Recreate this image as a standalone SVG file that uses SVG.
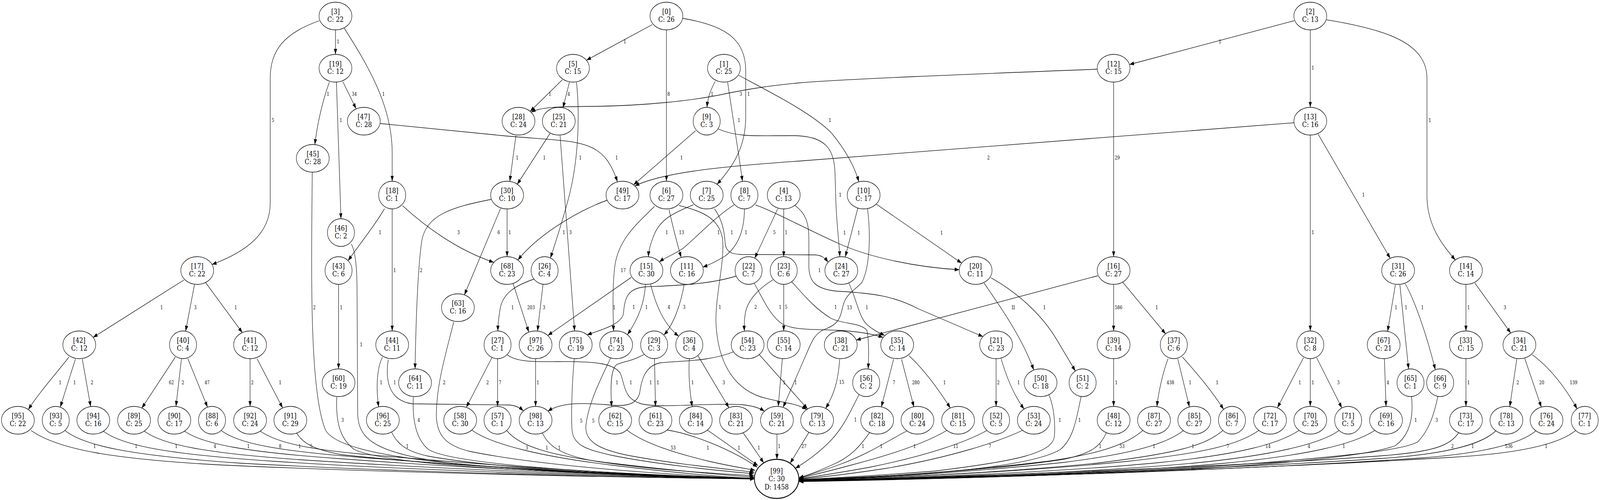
<svg xmlns="http://www.w3.org/2000/svg" width="4965" height="1279" viewBox="0 0 4965 1279" preserveAspectRatio="none" style="width:100%;height:100%">
<defs>
<style>
#connectors path{fill:none;stroke:#000;stroke-width:1.3;marker-end:url(#ah)}
#connectors text{font-family:"DejaVu Serif","Liberation Serif",serif;font-size:12.3px;text-anchor:middle;fill:#000}
.n ellipse{fill:#fff;stroke:#000;stroke-width:1.3}
.n text{font-family:"DejaVu Serif","Liberation Serif",serif;font-size:18.7px;text-anchor:middle;fill:#000}
.n.b ellipse{stroke-width:2.4}
</style>
<marker id="ah" viewBox="0 0 14 10" refX="14" refY="5" markerWidth="14" markerHeight="10" markerUnits="userSpaceOnUse" orient="auto"><path d="M0,0 L14,5 L0,10 z" fill="#000"/></marker>
</defs>
<rect width="4965" height="1279" fill="#fff"/>
<g id="connectors">
<g><path d="M1041,76.5 L1041,139"/><text x="1049" y="111.5">1</text></g>
<g><path d="M991,53 C880,85 838.5,130 838.5,200 L838.5,520 C838.5,600 760,645 658,676.5"/><text x="847" y="312.5">5</text></g>
<g><path d="M1068,72 C1140,165 1217,270 1217,390 L1217,463.5"/><text x="1190" y="245.5">1</text></g>
<g><path d="M1022,210 C1000,260 984,320 977,369.8"/><text x="1018" y="245.5">1</text></g>
<g><path d="M1044,210 L1058,559.5"/><text x="1058" y="312.5">1</text></g>
<g><path d="M1064,209 L1105,278"/><text x="1099.5" y="245.5">34</text></g>
<g><path d="M1180,316 L1560,347 C1800,365 1870,350 1916,465"/><text x="1913.7" y="408.5">1</text></g>
<g><path d="M969,440.5 C966,700 960,1000 1010,1100 C1060,1175 1500,1205 2341,1225"/><text x="975.5" y="791.5">2</text></g>
<g><path d="M1090,624 C1104,645 1108,690 1108,750 L1110,1060 C1112,1130 1180,1160 1400,1185 C1800,1215 2200,1222 2341,1225"/><text x="1121" y="886.5">1</text></g>
<g><path d="M1193,534 C1160,580 1120,620 1080,667"/><text x="1179.5" y="599.5">1</text></g>
<g><path d="M1217,534.5 L1217,846.5"/><text x="1225" y="696.5">1</text></g>
<g><path d="M1249,526 C1320,580 1420,640 1532,671"/><text x="1422.7" y="599.5">3</text></g>
<g><path d="M571,716 L289,863"/><text x="501.6" y="791.5">1</text></g>
<g><path d="M603.6,727.5 L576,847"/><text x="606" y="791.5">3</text></g>
<g><path d="M638,722.7 L752,851"/><text x="731.6" y="791.5">1</text></g>
<g><path d="M1050.6,727.5 L1050.6,943.5"/><text x="1058.7" y="791.5">1</text></g>
<g><path d="M213.7,913.5 C180,950 120,1005 88,1047.6"/><text x="186.8" y="983.5">1</text></g>
<g><path d="M234,918.5 L187,1041.4"/><text x="231.6" y="983.5">1</text></g>
<g><path d="M255.3,918.5 L281.4,1040"/><text x="285.5" y="983.5">2</text></g>
<g><path d="M544,913.5 L440,1044"/><text x="531.8" y="983.5">62</text></g>
<g><path d="M563,918.5 L546,1039.6"/><text x="567.7" y="983.5">2</text></g>
<g><path d="M583,917.6 L644,1041.5"/><text x="642.7" y="983.5">47</text></g>
<g><path d="M776,917.5 L776,1039.5"/><text x="783" y="983.5">2</text></g>
<g><path d="M797.7,917.6 L877,1043.5"/><text x="869.5" y="983.5">1</text></g>
<g><path d="M1187,913.5 C1170,940 1166,990 1175,1041"/><text x="1182.7" y="983.5">1</text></g>
<g><path d="M1205,919.6 C1195,970 1205,1025 1280,1033 L1580,1036 C1600,1037 1614,1043 1624,1051"/><text x="1225" y="983.5">1</text></g>
<g><path d="M1524.6,510 C1400,530 1320,550 1308,620 C1295,700 1290,850 1288,943.5"/><text x="1306.8" y="696.5">2</text></g>
<g><path d="M1553,534 L1441,754.4"/><text x="1547.5" y="599.5">6</text></g>
<g><path d="M1573.6,534.5 L1573.6,656.5"/><text x="1581.7" y="599.5">1</text></g>
<g><path d="M1885,512 C1820,530 1680,590 1607,665"/><text x="1749.7" y="599.5">1</text></g>
<g><path d="M1408,823.7 C1385,900 1355,980 1354,1060 C1354,1110 1380,1140 1460,1155 C1700,1195 2100,1215 2341,1225"/><text x="1378.6" y="983.5">2</text></g>
<g><path d="M1282.6,1015.5 C1280,1060 1285,1120 1330,1150 C1400,1185 1800,1210 2341,1225"/><text x="1299.5" y="1079.5">4</text></g>
<g><path d="M1045,1015.5 C1042,1070 1050,1120 1100,1150 C1200,1190 1700,1210 2341,1225"/><text x="1063" y="1079.5">3</text></g>
<g><path d="M1215,1105 C1232,1135 1260,1155 1330,1167 C1550,1200 2000,1218 2341,1225"/><text x="1264" y="1146.5">1</text></g>
<g><path d="M96,1101 C180,1150 350,1175 700,1190 C1300,1212 2000,1222 2341,1225"/><text x="293.6" y="1146.5">1</text></g>
<g><path d="M201,1101 C260,1140 400,1165 750,1185 C1300,1210 2000,1222 2341,1225"/><text x="422.5" y="1146.5">1</text></g>
<g><path d="M321,1103 C380,1140 520,1162 850,1180 C1350,1207 2000,1220 2341,1225"/><text x="547" y="1146.5">1</text></g>
<g><path d="M448,1103 C505,1138 640,1160 950,1177 C1450,1204 2000,1219 2341,1225"/><text x="667" y="1146.5">4</text></g>
<g><path d="M573,1103 C630,1136 760,1156 1050,1173 C1500,1201 2000,1218 2341,1224"/><text x="771" y="1146.5">1</text></g>
<g><path d="M686,1101 C740,1135 860,1153 1120,1170 C1550,1198 2000,1217 2341,1224"/><text x="869.5" y="1146.5">8</text></g>
<g><path d="M808,1103 C860,1133 960,1152 1200,1167 C1600,1196 2000,1216 2341,1224"/><text x="930" y="1146.5">1</text></g>
<g><path d="M920,1107 C940,1135 975,1150 1060,1163 C1450,1198 2000,1215 2341,1224"/><text x="965.7" y="1146.5">5</text></g>
<g><path d="M2024,63 L1820,154"/><text x="1939" y="111.5">1</text></g>
<g><path d="M2068,76.5 L2068,463.5"/><text x="2075" y="245.5">8</text></g>
<g><path d="M2119,47 C2250,65 2314,100 2314,180 L2314,300 C2314,380 2270,430 2225,471.5"/><text x="2323" y="245.5">1</text></g>
<g><path d="M1745,204 L1645,285"/><text x="1706.5" y="245.5">1</text></g>
<g><path d="M1767,210.4 L1747,275.7"/><text x="1765" y="245.5">4</text></g>
<g><path d="M1789,210.4 C1800,300 1795,420 1760,520 C1740,580 1720,630 1708,660"/><text x="1801" y="408.5">1</text></g>
<g><path d="M2219.6,208 C2205,230 2196,250 2194,274.5"/><text x="2209.8" y="245.5">1</text></g>
<g><path d="M2258,210.4 C2270,280 2290,380 2304,463.8"/><text x="2293" y="312.5">1</text></g>
<g><path d="M2292,192.5 C2400,240 2520,290 2580,340 C2620,380 2650,420 2665,465"/><text x="2575.6" y="312.5">1</text></g>
<g><path d="M3405,177 C3000,190 2600,203 2480,212 C2380,220 2320,228 2250,240 C2150,258 2000,270 1850,272 C1750,273 1680,272 1648,287"/><text x="2298.7" y="245.5">3</text></g>
<g><path d="M1601,346.7 L1582,463.8"/><text x="1605" y="408.5">1</text></g>
<g><path d="M1707,341 L1605,471.5"/><text x="1689" y="408.5">1</text></g>
<g><path d="M1738,346.7 C1750,480 1770,700 1783,846.6"/><text x="1770" y="599.5">3</text></g>
<g><path d="M2158.4,334.4 L1966,472.8"/><text x="2115" y="408.5">1</text></g>
<g><path d="M2229,330 C2290,352 2350,347 2460,347 C2560,347 2588,380 2591,440 L2594,520 C2597,580 2604,620 2606,656.6"/><text x="2607.4" y="503.5">1</text></g>
<g><path d="M4016,314 L2480,412 C2250,425 2060,440 1970,475.5"/><text x="3067.4" y="408.5">2</text></g>
<g><path d="M3455.7,210 L3455.7,656.5"/><text x="3467" y="408.5">29</text></g>
<g><path d="M4016,53 L3505,165"/><text x="3786" y="111.5">1</text></g>
<g><path d="M4066,76.5 L4066,274.5"/><text x="4074" y="178.5">1</text></g>
<g><path d="M4116,50.6 C4300,75 4428,110 4428,200 L4428,500 C4428,580 4480,630 4516,665"/><text x="4437" y="312.5">1</text></g>
<g><path d="M4066,345.5 L4066,846.5"/><text x="4074" y="599.5">1</text></g>
<g><path d="M4090,342.6 L4314,660.8"/><text x="4231" y="503.5">1</text></g>
<g><path d="M2031,528 C1980,570 1920,610 1908,680 C1900,730 1902,800 1904,847"/><text x="1934" y="696.5">17</text></g>
<g><path d="M2076,536 C2088,580 2100,620 2114,658.6"/><text x="2115" y="599.5">13</text></g>
<g><path d="M2107,525.7 C2175,540 2230,555 2242,610 C2250,670 2218,760 2222,830 C2228,920 2270,990 2360,1015 C2420,1030 2470,1030 2503,1047.6"/><text x="2234" y="790.5">1</text></g>
<g><path d="M2152,523.7 C2090,545 2050,560 2030,600 C2018,625 2013,640 2012,656.7"/><text x="2069" y="599.5">1</text></g>
<g><path d="M2217,534 C2240,560 2248,590 2250,620 C2252,645 2270,650 2300,651 L2530,652 C2550,653 2560,660 2570,670.7"/><text x="2271" y="599.5">1</text></g>
<g><path d="M2278,523.7 C2220,555 2170,600 2120,635 C2090,652 2065,658 2046,670"/><text x="2229.8" y="599.5">1</text></g>
<g><path d="M2310,534.5 C2310,590 2290,630 2250,655 C2220,670 2200,678 2181,683"/><text x="2315" y="599.5">1</text></g>
<g><path d="M2344,524 C2400,540 2500,585 2600,622 C2700,660 2850,684 2976.5,690"/><text x="2621" y="600.5">1</text></g>
<g><path d="M2413,534.7 L2342,660.5"/><text x="2403" y="599.5">5</text></g>
<g><path d="M2432,534.5 L2432,656.5"/><text x="2439.6" y="599.5">1</text></g>
<g><path d="M2466,525 C2500,545 2510,570 2510,610 L2510,680 C2510,720 2530,740 2600,745 C2720,750 2780,760 2850,790 L3050,861"/><text x="2543" y="696.5">1</text></g>
<g><path d="M2662,532 L2623,657"/><text x="2665" y="600.5">1</text></g>
<g><path d="M2719,522 L2984,673"/><text x="2922" y="600.5">1</text></g>
<g><path d="M2692,534 C2702,600 2700,680 2675,722 C2650,745 2625,750 2615,785 C2608,815 2600,830 2560,842 C2530,852 2520,870 2500,910 L2430,1042"/><text x="2636" y="791">13</text></g>
<g><path d="M1958.6,709.6 L1700,858"/><text x="1906" y="791.5">1</text></g>
<g><path d="M2003,727.8 C2000,770 1985,810 1947,856"/><text x="2006" y="790.5">1</text></g>
<g><path d="M2019,727.8 C2035,780 2060,830 2106,860"/><text x="2075.5" y="790.5">4</text></g>
<g><path d="M2123,727.8 C2112,780 2090,830 2060,857"/><text x="2123" y="790.5">3</text></g>
<g><path d="M2285,706 C2200,728 2100,730 2000,734 C1950,738 1938,760 1935,800 C1932,830 1860,845 1822,856.5"/><text x="1966.7" y="790.5">1</text></g>
<g><path d="M2340,724 C2365,760 2390,810 2430,830 C2470,845 2520,842 2600,845 C2670,848 2710,855 2740,863"/><text x="2421" y="790.5">1</text></g>
<g><path d="M2399,715.5 C2350,740 2320,770 2313,800 C2309,820 2309,835 2310,847"/><text x="2345" y="790.5">2</text></g>
<g><path d="M2432,727.5 L2432,846.5"/><text x="2439.6" y="790.5">5</text></g>
<g><path d="M2456,720 C2500,760 2530,790 2580,815 C2620,830 2670,825 2690,845 C2697,870 2696,910 2694,943.8"/><text x="2593" y="790.5">1</text></g>
<g><path d="M2633.5,723 C2660,770 2665,810 2690,830 C2710,845 2730,852 2745,858"/><text x="2690" y="791">1</text></g>
<g><path d="M3053.6,724 C3100,780 3170,860 3208,946.5"/><text x="3142" y="791.5">1</text></g>
<g><path d="M3074,710 C3150,745 3230,800 3280,870 L3337,949"/><text x="3241" y="791.5">1</text></g>
<g><path d="M3406,705.5 L2657,870"/><text x="3147" y="791.5">1</text></g>
<g><path d="M3455.7,727.5 L3455.7,846.5"/><text x="3471" y="791.5">586</text></g>
<g><path d="M3484,722 L3617,854"/><text x="3589.5" y="791.5">1</text></g>
<g><path d="M4330,728.4 L4306,847.6"/><text x="4332" y="791.5">1</text></g>
<g><path d="M4344,728.4 L4371,943.8"/><text x="4363" y="791.5">1</text></g>
<g><path d="M4361,726 C4390,770 4425,850 4454,945.8"/><text x="4414" y="791.5">1</text></g>
<g><path d="M4549,727.5 L4549,846.5"/><text x="4557" y="791.5">1</text></g>
<g><path d="M4576.7,724 L4688,851.8"/><text x="4669.7" y="791.5">3</text></g>
<g><path d="M4045,915 L3964,1043"/><text x="4033.5" y="983.5">1</text></g>
<g><path d="M4066,917.5 L4066,1039.5"/><text x="4074" y="983.5">1</text></g>
<g><path d="M4085.7,915 L4164,1043.5"/><text x="4153" y="983.5">3</text></g>
<g><path d="M4296,917.6 L4301,1039.5"/><text x="4306.7" y="983.5">4</text></g>
<g><path d="M4549,917.5 L4549,1039.5"/><text x="4557" y="983.5">1</text></g>
<g><path d="M4707,917.6 L4685,1040.3"/><text x="4709.7" y="983.5">2</text></g>
<g><path d="M4731.7,917.6 L4783,1041.5"/><text x="4784" y="983.5">20</text></g>
<g><path d="M4754.5,907 C4800,935 4850,980 4894,1046"/><text x="4883" y="983.5">139</text></g>
<g><path d="M3624.6,917.6 C3610,950 3595,1000 3590,1040"/><text x="3632" y="983.5">438</text></g>
<g><path d="M3654.7,917.6 L3691,1041"/><text x="3693" y="983.5">1</text></g>
<g><path d="M3669.4,913.5 C3720,960 3760,1000 3797,1047"/><text x="3777" y="983.5">1</text></g>
<g><path d="M3455.7,917.5 L3455.7,1039.5"/><text x="3464" y="983.5">1</text></g>
<g><path d="M3091,917.5 L3091,1039.5"/><text x="3098" y="983.5">2</text></g>
<g><path d="M3106.6,917.6 C3125,970 3150,1015 3178,1046.4"/><text x="3161" y="983.5">1</text></g>
<g><path d="M2773,919 L2735,1041"/><text x="2774" y="983.5">7</text></g>
<g><path d="M2797.6,919 L2836,1041"/><text x="2842" y="983.5">280</text></g>
<g><path d="M2821,910 C2860,940 2900,980 2949,1043.6"/><text x="2931" y="983.5">1</text></g>
<g><path d="M2605.7,919 C2602,960 2595,1000 2562,1044.7"/><text x="2612" y="982.5">15</text></g>
<g><path d="M2356,907 L2506,1046"/><text x="2469" y="983.5">1</text></g>
<g><path d="M2428.6,909.4 L2415,1039.6"/><text x="2433.5" y="983.5">1</text></g>
<g><path d="M2139,917.5 C2136,960 2140,1000 2148,1040.4"/><text x="2149" y="983.5">1</text></g>
<g><path d="M2166,910 L2262,1043"/><text x="2245.7" y="983.5">3</text></g>
<g><path d="M2031,917.5 L2034,1039.5"/><text x="2041.6" y="983.5">1</text></g>
<g><path d="M2000,906 C1960,925 1930,925 1913,933 C1895,945 1894,990 1898,1040.3"/><text x="1914.5" y="983.5">1</text></g>
<g><path d="M1573,907 C1600,925 1650,926 1731,925 C1850,924 1905,930 1925,955 C1940,985 1935,1020 1990,1033 C2050,1045 2200,1030 2300,1035 C2340,1038 2360,1045 2372,1052"/><text x="1957.7" y="983.5">1</text></g>
<g><path d="M2276,900 C2200,925 2120,922 2050,928 C2000,935 1990,975 1985,1005 C1975,1040 1930,1040 1880,1035 C1800,1030 1740,1030 1700,1052"/><text x="2019" y="983.5">1</text></g>
<g><path d="M1527,914 L1447,1042"/><text x="1513" y="983.5">2</text></g>
<g><path d="M1544,917.5 L1544,1039.5"/><text x="1551.5" y="983.5">7</text></g>
<g><path d="M1657,714 C1600,730 1560,750 1552,790 C1547,815 1545,830 1545,846.5"/><text x="1590.7" y="791.5">1</text></g>
<g><path d="M1685.3,726 L1668,846.7"/><text x="1687.8" y="791.5">3</text></g>
<g><path d="M1592,725 L1641,849.5"/><text x="1648" y="791.5">203</text></g>
<g><path d="M1662,917.5 L1662,1039.5"/><text x="1669" y="983.5">1</text></g>
<g><path d="M1464,1100 C1530,1140 1700,1170 1900,1190 C2100,1210 2250,1220 2341,1224"/><text x="1634.6" y="1150">3</text></g>
<g><path d="M1572,1101 C1610,1140 1700,1165 1900,1185 C2100,1205 2250,1215 2341,1221"/><text x="1697" y="1150">1</text></g>
<g><path d="M1683,1107 C1700,1140 1740,1165 1850,1180 C2050,1205 2250,1212 2340,1217"/><text x="1735.7" y="1150">1</text></g>
<g><path d="M1782,917.5 C1775,980 1772,1060 1775,1100 C1780,1140 1820,1150 1900,1165 C2050,1190 2250,1205 2339,1212"/><text x="1803.7" y="1081.3">5</text></g>
<g><path d="M1895,915.5 C1870,960 1825,1030 1818,1090 C1815,1130 1860,1150 1950,1165 C2100,1188 2260,1200 2341,1208"/><text x="1841" y="1081.3">5</text></g>
<g><path d="M1945,1100 C2000,1135 2100,1160 2200,1180 C2270,1193 2310,1198 2343,1203"/><text x="2089" y="1150">53</text></g>
<g><path d="M2070,1100 C2150,1110 2270,1150 2350,1195"/><text x="2196.7" y="1150">1</text></g>
<g><path d="M2195,1100 L2352,1191"/><text x="2293" y="1150">1</text></g>
<g><path d="M2306,1107 C2330,1135 2350,1160 2370,1184"/><text x="2355" y="1150">1</text></g>
<g><path d="M2411,1110.5 L2411,1175"/><text x="2418" y="1146.5">1</text></g>
<g><path d="M2510,1106 L2452,1185"/><text x="2495" y="1146.5">27</text></g>
<g><path d="M2666,1009 C2640,1050 2620,1090 2580,1125 C2540,1160 2500,1182 2468,1198"/><text x="2654.7" y="1078">1</text></g>
<g><path d="M2699,1106 C2670,1140 2640,1170 2580,1190 C2540,1205 2510,1215 2479,1222"/><text x="2678" y="1146.5">1</text></g>
<g><path d="M2815,1102 C2760,1125 2700,1160 2600,1190 C2550,1205 2510,1215 2479,1223"/><text x="2734.7" y="1146.5">1</text></g>
<g><path d="M2940,1100 C2880,1130 2780,1160 2640,1190 C2560,1208 2510,1217 2479,1224"/><text x="2838" y="1146.5">1</text></g>
<g><path d="M3063,1101 C3000,1130 2880,1165 2700,1195 C2600,1210 2520,1220 2479,1225"/><text x="2966" y="1146.5">11</text></g>
<g><path d="M3175,1100 C3100,1130 2950,1170 2750,1198 C2620,1215 2530,1222 2479,1226"/><text x="3072" y="1146.5">7</text></g>
<g><path d="M3255,1010 C3270,1040 3275,1080 3272,1115 C3268,1160 3150,1180 2900,1205 C2700,1218 2550,1224 2479,1227"/><text x="3289" y="1079.5">1</text></g>
<g><path d="M3355,1014.4 C3342,1060 3335,1120 3290,1150 C3220,1185 3000,1205 2800,1215 C2650,1222 2550,1226 2479,1228"/><text x="3350" y="1079.5">1</text></g>
<g><path d="M3433,1107 C3415,1140 3390,1160 3300,1175 C3100,1200 2800,1218 2479,1228"/><text x="3414" y="1146.5">1</text></g>
<g><path d="M3548,1100 C3500,1135 3420,1160 3250,1180 C3000,1205 2750,1220 2479,1228"/><text x="3482" y="1146.5">53</text></g>
<g><path d="M3673,1101 C3620,1135 3520,1160 3300,1183 C3000,1208 2750,1222 2479,1227"/><text x="3581" y="1146.5">1</text></g>
<g><path d="M3795,1101 C3740,1140 3650,1160 3400,1185 C3100,1210 2750,1222 2479,1228"/><text x="3702" y="1146.5">1</text></g>
<g><path d="M3908,1100 C3850,1135 3750,1158 3500,1180 C3200,1205 2800,1222 2479,1228"/><text x="3810" y="1146.5">7</text></g>
<g><path d="M4033,1100 C3970,1135 3850,1162 3600,1183 C3300,1207 2850,1222 2479,1229"/><text x="3935" y="1146.5">14</text></g>
<g><path d="M4155.5,1101 C4100,1135 3950,1165 3700,1185 C3400,1208 2900,1223 2479,1229"/><text x="4062" y="1146.5">4</text></g>
<g><path d="M4268,1100 C4200,1138 4050,1165 3800,1185 C3500,1208 2950,1223 2479,1229"/><text x="4170" y="1146.5">1</text></g>
<g><path d="M4380,1014.5 C4386,1060 4380,1110 4330,1140 C4250,1165 4000,1185 3700,1200 C3300,1215 2800,1225 2479,1230"/><text x="4393" y="1079.5">1</text></g>
<g><path d="M4462,1014 C4450,1060 4435,1100 4400,1130 C4360,1150 4200,1165 3900,1185 C3500,1210 2900,1225 2479,1230"/><text x="4458" y="1079.5">3</text></g>
<g><path d="M4527,1106 C4500,1140 4450,1155 4300,1165 C4000,1185 3200,1215 2479,1230"/><text x="4507" y="1146.5">2</text></g>
<g><path d="M4642,1102 C4600,1135 4500,1160 4300,1172 C3900,1195 3100,1220 2479,1231"/><text x="4570" y="1146.5">1</text></g>
<g><path d="M4766,1102 C4720,1135 4600,1160 4400,1172 C4000,1195 3200,1222 2479,1231"/><text x="4682" y="1146.5">536</text></g>
<g><path d="M4890,1101 C4840,1135 4720,1160 4500,1170 C4100,1190 3200,1222 2479,1232"/><text x="4798" y="1146.5">1</text></g>
</g>
<g id="nodes">
<g id="n0" class="n"><ellipse cx="2068" cy="41" rx="51" ry="35.5"/><text x="2068" y="36.5">[0]</text><text x="2068" y="56">C: 26</text></g>
<g id="n1" class="n"><ellipse cx="2246.5" cy="174.5" rx="51" ry="35.5"/><text x="2246.5" y="170">[1]</text><text x="2246.5" y="189.5">C: 25</text></g>
<g id="n2" class="n"><ellipse cx="4066" cy="41" rx="51" ry="35.5"/><text x="4066" y="36.5">[2]</text><text x="4066" y="56">C: 13</text></g>
<g id="n3" class="n"><ellipse cx="1041" cy="41" rx="51" ry="35.5"/><text x="1041" y="36.5">[3]</text><text x="1041" y="56">C: 22</text></g>
<g id="n4" class="n"><ellipse cx="2432" cy="499" rx="51" ry="35.5"/><text x="2432" y="494.5">[4]</text><text x="2432" y="514">C: 13</text></g>
<g id="n5" class="n"><ellipse cx="1778" cy="174.5" rx="51" ry="35.5"/><text x="1778" y="170">[5]</text><text x="1778" y="189.5">C: 15</text></g>
<g id="n6" class="n"><ellipse cx="2068" cy="499" rx="51" ry="35.5"/><text x="2068" y="494.5">[6]</text><text x="2068" y="514">C: 27</text></g>
<g id="n7" class="n"><ellipse cx="2193" cy="499" rx="51" ry="35.5"/><text x="2193" y="494.5">[7]</text><text x="2193" y="514">C: 25</text></g>
<g id="n8" class="n"><ellipse cx="2310" cy="499" rx="42" ry="35.5"/><text x="2310" y="494.5">[8]</text><text x="2310" y="514">C: 7</text></g>
<g id="n9" class="n"><ellipse cx="2193" cy="310" rx="42" ry="35.5"/><text x="2193" y="305.5">[9]</text><text x="2193" y="325">C: 3</text></g>
<g id="n10" class="n"><ellipse cx="2680" cy="499" rx="51" ry="35.5"/><text x="2680" y="494.5">[10]</text><text x="2680" y="514">C: 17</text></g>
<g id="n11" class="n"><ellipse cx="2131.5" cy="692" rx="51" ry="35.5"/><text x="2131.5" y="687.5">[11]</text><text x="2131.5" y="707">C: 16</text></g>
<g id="n12" class="n"><ellipse cx="3455.7" cy="174.5" rx="51" ry="35.5"/><text x="3455.7" y="170">[12]</text><text x="3455.7" y="189.5">C: 15</text></g>
<g id="n13" class="n"><ellipse cx="4066" cy="310" rx="51" ry="35.5"/><text x="4066" y="305.5">[13]</text><text x="4066" y="325">C: 16</text></g>
<g id="n14" class="n"><ellipse cx="4549" cy="692" rx="51" ry="35.5"/><text x="4549" y="687.5">[14]</text><text x="4549" y="707">C: 14</text></g>
<g id="n15" class="n"><ellipse cx="2006" cy="692" rx="51" ry="35.5"/><text x="2006" y="687.5">[15]</text><text x="2006" y="707">C: 30</text></g>
<g id="n16" class="n"><ellipse cx="3455.7" cy="692" rx="51" ry="35.5"/><text x="3455.7" y="687.5">[16]</text><text x="3455.7" y="707">C: 27</text></g>
<g id="n17" class="n"><ellipse cx="612" cy="692" rx="51" ry="35.5"/><text x="612" y="687.5">[17]</text><text x="612" y="707">C: 22</text></g>
<g id="n18" class="n"><ellipse cx="1217" cy="499" rx="42" ry="35.5"/><text x="1217" y="494.5">[18]</text><text x="1217" y="514">C: 1</text></g>
<g id="n19" class="n"><ellipse cx="1041" cy="174.5" rx="51" ry="35.5"/><text x="1041" y="170">[19]</text><text x="1041" y="189.5">C: 12</text></g>
<g id="n20" class="n"><ellipse cx="3027.5" cy="692" rx="51" ry="35.5"/><text x="3027.5" y="687.5">[20]</text><text x="3027.5" y="707">C: 11</text></g>
<g id="n21" class="n"><ellipse cx="3091" cy="882" rx="51" ry="35.5"/><text x="3091" y="877.5">[21]</text><text x="3091" y="897">C: 23</text></g>
<g id="n22" class="n"><ellipse cx="2323" cy="692" rx="42" ry="35.5"/><text x="2323" y="687.5">[22]</text><text x="2323" y="707">C: 7</text></g>
<g id="n23" class="n"><ellipse cx="2432" cy="692" rx="42" ry="35.5"/><text x="2432" y="687.5">[23]</text><text x="2432" y="707">C: 6</text></g>
<g id="n24" class="n"><ellipse cx="2610.7" cy="692" rx="51" ry="35.5"/><text x="2610.7" y="687.5">[24]</text><text x="2610.7" y="707">C: 27</text></g>
<g id="n25" class="n"><ellipse cx="1734" cy="310" rx="51" ry="35.5"/><text x="1734" y="305.5">[25]</text><text x="1734" y="325">C: 21</text></g>
<g id="n26" class="n"><ellipse cx="1690" cy="692" rx="42" ry="35.5"/><text x="1690" y="687.5">[26]</text><text x="1690" y="707">C: 4</text></g>
<g id="n27" class="n"><ellipse cx="1544" cy="882" rx="42" ry="35.5"/><text x="1544" y="877.5">[27]</text><text x="1544" y="897">C: 1</text></g>
<g id="n28" class="n"><ellipse cx="1609" cy="310" rx="51" ry="35.5"/><text x="1609" y="305.5">[28]</text><text x="1609" y="325">C: 24</text></g>
<g id="n29" class="n"><ellipse cx="2030" cy="882" rx="42" ry="35.5"/><text x="2030" y="877.5">[29]</text><text x="2030" y="897">C: 3</text></g>
<g id="n30" class="n"><ellipse cx="1573.6" cy="499" rx="51" ry="35.5"/><text x="1573.6" y="494.5">[30]</text><text x="1573.6" y="514">C: 10</text></g>
<g id="n31" class="n"><ellipse cx="4338.5" cy="692" rx="51" ry="35.5"/><text x="4338.5" y="687.5">[31]</text><text x="4338.5" y="707">C: 26</text></g>
<g id="n32" class="n"><ellipse cx="4066" cy="882" rx="42" ry="35.5"/><text x="4066" y="877.5">[32]</text><text x="4066" y="897">C: 8</text></g>
<g id="n33" class="n"><ellipse cx="4549" cy="882" rx="51" ry="35.5"/><text x="4549" y="877.5">[33]</text><text x="4549" y="897">C: 15</text></g>
<g id="n34" class="n"><ellipse cx="4715" cy="882" rx="51" ry="35.5"/><text x="4715" y="877.5">[34]</text><text x="4715" y="897">C: 21</text></g>
<g id="n35" class="n"><ellipse cx="2784" cy="882" rx="51" ry="35.5"/><text x="2784" y="877.5">[35]</text><text x="2784" y="897">C: 14</text></g>
<g id="n36" class="n"><ellipse cx="2139" cy="882" rx="42" ry="35.5"/><text x="2139" y="877.5">[36]</text><text x="2139" y="897">C: 4</text></g>
<g id="n37" class="n"><ellipse cx="3642.5" cy="882" rx="42" ry="35.5"/><text x="3642.5" y="877.5">[37]</text><text x="3642.5" y="897">C: 6</text></g>
<g id="n38" class="n"><ellipse cx="2609" cy="882" rx="51" ry="35.5"/><text x="2609" y="877.5">[38]</text><text x="2609" y="897">C: 21</text></g>
<g id="n39" class="n"><ellipse cx="3455.7" cy="882" rx="51" ry="35.5"/><text x="3455.7" y="877.5">[39]</text><text x="3455.7" y="897">C: 14</text></g>
<g id="n40" class="n"><ellipse cx="568" cy="882" rx="42" ry="35.5"/><text x="568" y="877.5">[40]</text><text x="568" y="897">C: 4</text></g>
<g id="n41" class="n"><ellipse cx="776" cy="882" rx="51" ry="35.5"/><text x="776" y="877.5">[41]</text><text x="776" y="897">C: 12</text></g>
<g id="n42" class="n"><ellipse cx="246" cy="882" rx="51" ry="35.5"/><text x="246" y="877.5">[42]</text><text x="246" y="897">C: 12</text></g>
<g id="n43" class="n"><ellipse cx="1050.6" cy="692" rx="42" ry="35.5"/><text x="1050.6" y="687.5">[43]</text><text x="1050.6" y="707">C: 6</text></g>
<g id="n44" class="n"><ellipse cx="1217" cy="882" rx="51" ry="35.5"/><text x="1217" y="877.5">[44]</text><text x="1217" y="897">C: 11</text></g>
<g id="n45" class="n"><ellipse cx="970.6" cy="405" rx="51" ry="35.5"/><text x="970.6" y="400.5">[45]</text><text x="970.6" y="420">C: 28</text></g>
<g id="n46" class="n"><ellipse cx="1058" cy="595" rx="42" ry="35.5"/><text x="1058" y="590.5">[46]</text><text x="1058" y="610">C: 2</text></g>
<g id="n47" class="n"><ellipse cx="1129" cy="310" rx="51" ry="35.5"/><text x="1129" y="305.5">[47]</text><text x="1129" y="325">C: 28</text></g>
<g id="n48" class="n"><ellipse cx="3455.7" cy="1075" rx="51" ry="35.5"/><text x="3455.7" y="1070.5">[48]</text><text x="3455.7" y="1090">C: 12</text></g>
<g id="n49" class="n"><ellipse cx="1931.6" cy="499" rx="51" ry="35.5"/><text x="1931.6" y="494.5">[49]</text><text x="1931.6" y="514">C: 17</text></g>
<g id="n50" class="n"><ellipse cx="3229" cy="979" rx="51" ry="35.5"/><text x="3229" y="974.5">[50]</text><text x="3229" y="994">C: 18</text></g>
<g id="n51" class="n"><ellipse cx="3359.5" cy="979" rx="42" ry="35.5"/><text x="3359.5" y="974.5">[51]</text><text x="3359.5" y="994">C: 2</text></g>
<g id="n52" class="n"><ellipse cx="3091" cy="1075" rx="42" ry="35.5"/><text x="3091" y="1070.5">[52]</text><text x="3091" y="1090">C: 5</text></g>
<g id="n53" class="n"><ellipse cx="3208" cy="1075" rx="51" ry="35.5"/><text x="3208" y="1070.5">[53]</text><text x="3208" y="1090">C: 24</text></g>
<g id="n54" class="n"><ellipse cx="2320" cy="882" rx="51" ry="35.5"/><text x="2320" y="877.5">[54]</text><text x="2320" y="897">C: 23</text></g>
<g id="n55" class="n"><ellipse cx="2432" cy="882" rx="51" ry="35.5"/><text x="2432" y="877.5">[55]</text><text x="2432" y="897">C: 14</text></g>
<g id="n56" class="n"><ellipse cx="2688" cy="979" rx="42" ry="35.5"/><text x="2688" y="974.5">[56]</text><text x="2688" y="994">C: 2</text></g>
<g id="n57" class="n"><ellipse cx="1544" cy="1075" rx="42" ry="35.5"/><text x="1544" y="1070.5">[57]</text><text x="1544" y="1090">C: 1</text></g>
<g id="n58" class="n"><ellipse cx="1428" cy="1075" rx="51" ry="35.5"/><text x="1428" y="1070.5">[58]</text><text x="1428" y="1090">C: 30</text></g>
<g id="n59" class="n"><ellipse cx="2411" cy="1075" rx="51" ry="35.5"/><text x="2411" y="1070.5">[59]</text><text x="2411" y="1090">C: 21</text></g>
<g id="n60" class="n"><ellipse cx="1050.6" cy="979" rx="51" ry="35.5"/><text x="1050.6" y="974.5">[60]</text><text x="1050.6" y="994">C: 19</text></g>
<g id="n61" class="n"><ellipse cx="2034" cy="1075" rx="51" ry="35.5"/><text x="2034" y="1070.5">[61]</text><text x="2034" y="1090">C: 23</text></g>
<g id="n62" class="n"><ellipse cx="1909" cy="1075" rx="51" ry="35.5"/><text x="1909" y="1070.5">[62]</text><text x="1909" y="1090">C: 15</text></g>
<g id="n63" class="n"><ellipse cx="1421" cy="787" rx="51" ry="35.5"/><text x="1421" y="782.5">[63]</text><text x="1421" y="802">C: 16</text></g>
<g id="n64" class="n"><ellipse cx="1288" cy="979" rx="51" ry="35.5"/><text x="1288" y="974.5">[64]</text><text x="1288" y="994">C: 11</text></g>
<g id="n65" class="n"><ellipse cx="4377" cy="979" rx="42" ry="35.5"/><text x="4377" y="974.5">[65]</text><text x="4377" y="994">C: 1</text></g>
<g id="n66" class="n"><ellipse cx="4469" cy="979" rx="42" ry="35.5"/><text x="4469" y="974.5">[66]</text><text x="4469" y="994">C: 9</text></g>
<g id="n67" class="n"><ellipse cx="4293.7" cy="882" rx="51" ry="35.5"/><text x="4293.7" y="877.5">[67]</text><text x="4293.7" y="897">C: 21</text></g>
<g id="n68" class="n"><ellipse cx="1573.6" cy="692" rx="51" ry="35.5"/><text x="1573.6" y="687.5">[68]</text><text x="1573.6" y="707">C: 23</text></g>
<g id="n69" class="n"><ellipse cx="4301" cy="1075" rx="51" ry="35.5"/><text x="4301" y="1070.5">[69]</text><text x="4301" y="1090">C: 16</text></g>
<g id="n70" class="n"><ellipse cx="4066" cy="1075" rx="51" ry="35.5"/><text x="4066" y="1070.5">[70]</text><text x="4066" y="1090">C: 25</text></g>
<g id="n71" class="n"><ellipse cx="4183.5" cy="1075" rx="42" ry="35.5"/><text x="4183.5" y="1070.5">[71]</text><text x="4183.5" y="1090">C: 5</text></g>
<g id="n72" class="n"><ellipse cx="3941" cy="1075" rx="51" ry="35.5"/><text x="3941" y="1070.5">[72]</text><text x="3941" y="1090">C: 17</text></g>
<g id="n73" class="n"><ellipse cx="4549" cy="1075" rx="51" ry="35.5"/><text x="4549" y="1070.5">[73]</text><text x="4549" y="1090">C: 17</text></g>
<g id="n74" class="n"><ellipse cx="1912" cy="882" rx="51" ry="35.5"/><text x="1912" y="877.5">[74]</text><text x="1912" y="897">C: 23</text></g>
<g id="n75" class="n"><ellipse cx="1786.5" cy="882" rx="51" ry="35.5"/><text x="1786.5" y="877.5">[75]</text><text x="1786.5" y="897">C: 19</text></g>
<g id="n76" class="n"><ellipse cx="4799" cy="1075" rx="51" ry="35.5"/><text x="4799" y="1070.5">[76]</text><text x="4799" y="1090">C: 24</text></g>
<g id="n77" class="n"><ellipse cx="4917.6" cy="1075" rx="42" ry="35.5"/><text x="4917.6" y="1070.5">[77]</text><text x="4917.6" y="1090">C: 1</text></g>
<g id="n78" class="n"><ellipse cx="4674.6" cy="1075" rx="51" ry="35.5"/><text x="4674.6" y="1070.5">[78]</text><text x="4674.6" y="1090">C: 13</text></g>
<g id="n79" class="n"><ellipse cx="2535.6" cy="1075" rx="51" ry="35.5"/><text x="2535.6" y="1070.5">[79]</text><text x="2535.6" y="1090">C: 13</text></g>
<g id="n80" class="n"><ellipse cx="2847" cy="1075" rx="51" ry="35.5"/><text x="2847" y="1070.5">[80]</text><text x="2847" y="1090">C: 24</text></g>
<g id="n81" class="n"><ellipse cx="2973" cy="1075" rx="51" ry="35.5"/><text x="2973" y="1070.5">[81]</text><text x="2973" y="1090">C: 15</text></g>
<g id="n82" class="n"><ellipse cx="2722" cy="1075" rx="51" ry="35.5"/><text x="2722" y="1070.5">[82]</text><text x="2722" y="1090">C: 18</text></g>
<g id="n83" class="n"><ellipse cx="2284" cy="1075" rx="51" ry="35.5"/><text x="2284" y="1070.5">[83]</text><text x="2284" y="1090">C: 21</text></g>
<g id="n84" class="n"><ellipse cx="2159" cy="1075" rx="51" ry="35.5"/><text x="2159" y="1070.5">[84]</text><text x="2159" y="1090">C: 14</text></g>
<g id="n85" class="n"><ellipse cx="3706" cy="1075" rx="51" ry="35.5"/><text x="3706" y="1070.5">[85]</text><text x="3706" y="1090">C: 27</text></g>
<g id="n86" class="n"><ellipse cx="3823" cy="1075" rx="42" ry="35.5"/><text x="3823" y="1070.5">[86]</text><text x="3823" y="1090">C: 7</text></g>
<g id="n87" class="n"><ellipse cx="3581" cy="1075" rx="51" ry="35.5"/><text x="3581" y="1070.5">[87]</text><text x="3581" y="1090">C: 27</text></g>
<g id="n88" class="n"><ellipse cx="658" cy="1075" rx="42" ry="35.5"/><text x="658" y="1070.5">[88]</text><text x="658" y="1090">C: 6</text></g>
<g id="n89" class="n"><ellipse cx="416" cy="1075" rx="51" ry="35.5"/><text x="416" y="1070.5">[89]</text><text x="416" y="1090">C: 25</text></g>
<g id="n90" class="n"><ellipse cx="541" cy="1075" rx="51" ry="35.5"/><text x="541" y="1070.5">[90]</text><text x="541" y="1090">C: 17</text></g>
<g id="n91" class="n"><ellipse cx="901" cy="1075" rx="51" ry="35.5"/><text x="901" y="1070.5">[91]</text><text x="901" y="1090">C: 29</text></g>
<g id="n92" class="n"><ellipse cx="776" cy="1075" rx="51" ry="35.5"/><text x="776" y="1070.5">[92]</text><text x="776" y="1090">C: 24</text></g>
<g id="n93" class="n"><ellipse cx="173" cy="1075" rx="42" ry="35.5"/><text x="173" y="1070.5">[93]</text><text x="173" y="1090">C: 5</text></g>
<g id="n94" class="n"><ellipse cx="289.6" cy="1075" rx="51" ry="35.5"/><text x="289.6" y="1070.5">[94]</text><text x="289.6" y="1090">C: 16</text></g>
<g id="n95" class="n"><ellipse cx="55.5" cy="1075" rx="51" ry="35.5"/><text x="55.5" y="1070.5">[95]</text><text x="55.5" y="1090">C: 22</text></g>
<g id="n96" class="n"><ellipse cx="1188" cy="1075" rx="51" ry="35.5"/><text x="1188" y="1070.5">[96]</text><text x="1188" y="1090">C: 25</text></g>
<g id="n97" class="n"><ellipse cx="1662" cy="882" rx="51" ry="35.5"/><text x="1662" y="877.5">[97]</text><text x="1662" y="897">C: 26</text></g>
<g id="n98" class="n"><ellipse cx="1662" cy="1075" rx="51" ry="35.5"/><text x="1662" y="1070.5">[98]</text><text x="1662" y="1090">C: 13</text></g>
<g id="n99" class="n b"><ellipse cx="2410" cy="1225" rx="69" ry="50"/><text x="2410" y="1211">[99]</text><text x="2410" y="1231.5">C: 30</text><text x="2410" y="1252">D: 1458</text></g>
</g>
</svg>
